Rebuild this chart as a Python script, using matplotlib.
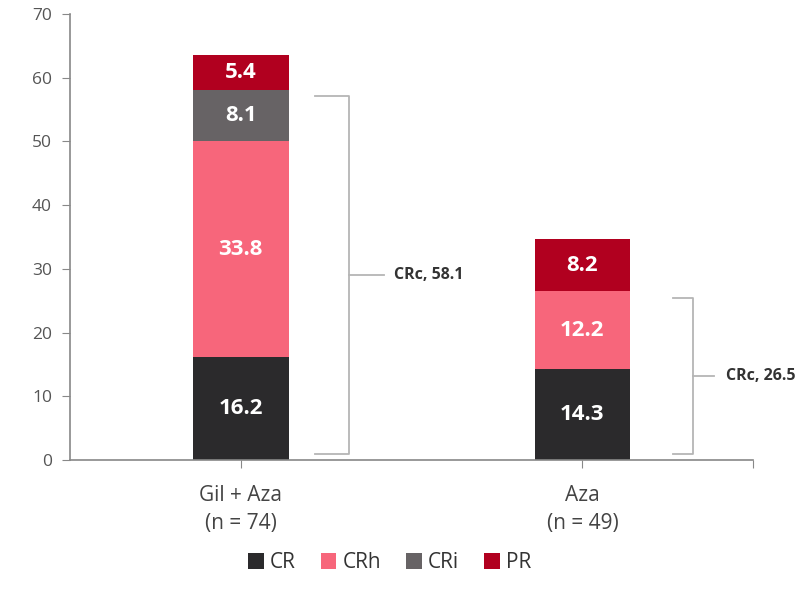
import numpy as np
import matplotlib.pyplot as plt

groups = ['Gil + Aza\n(n = 74)', 'Aza\n(n = 49)']
categories = ['CR', 'CRh', 'CRi', 'PR']
values = {
    'CR': [16.2, 14.3],
    'CRh': [33.8, 12.2],
    'CRi': [8.1, 0.0],
    'PR': [5.4, 8.2],
}
crc_totals = [58.1, 26.5]
colors = ['#2b2a2c', '#f7667b', '#676365', '#b1001f']

plt.rcParams['font.family'] = ['Open Sans', 'DejaVu Sans']

fig = plt.figure(figsize=(8, 6), dpi=100)
ax = fig.add_axes([0.0875, 0.233, 0.854, 0.744])

x = np.array([0.5, 1.5])
width = 0.28
bottom = np.zeros(2)
for cat, col in zip(categories, colors):
    vals = np.array(values[cat])
    ax.bar(x, vals, width, bottom=bottom, color=col, label=cat)
    for xi, b, v in zip(x, bottom, vals):
        if v > 0:
            ax.text(xi, b + v / 2, f'{v:.1f}', ha='center', va='center',
                    color='white', fontsize=16, fontweight='bold')
    bottom += vals

# CRc brackets: (vertical x, arm length, middle tick length, label offset)
brackets = [(0.818, 0.10, 0.10, 0.13), (1.825, 0.06, 0.06, 0.094)]
for (bx, arm, mid, off), tot in zip(brackets, crc_totals):
    top, low = tot - 1.0, 0.9
    ax.plot([bx - arm, bx, bx, bx - arm], [top, top, low, low],
            color='#b5b5b5', lw=1.3, clip_on=False)
    ym = (top + low) / 2
    ax.plot([bx, bx + mid], [ym, ym], color='#b5b5b5', lw=1.3, clip_on=False)
    ax.text(bx + off, ym, f'CRc, {tot}', ha='left', va='center',
            fontsize=11.5, fontweight='bold', color='#333333', clip_on=False)

ax.set_xlim(0, 2)
ax.set_ylim(0, 70)
ax.set_yticks(range(0, 71, 10))
ax.set_xticks(list(x) + [2.0])
ax.set_xticklabels(groups + [''], fontsize=15, color='#444444', linespacing=1.45)
ax.tick_params(axis='y', labelsize=12.5, labelcolor='#555555', color='#888888',
               length=6, pad=7)
ax.tick_params(axis='x', color='#888888', length=6, pad=12)
for s in ['top', 'right']:
    ax.spines[s].set_visible(False)
for s in ['left', 'bottom']:
    ax.spines[s].set_color('#888888')
    ax.spines[s].set_linewidth(1.2)

fig.legend(loc='center', bbox_to_anchor=(0.487, 0.062), ncol=4, frameon=False,
           fontsize=15, handlelength=0.75, handleheight=0.75, handletextpad=0.3,
           columnspacing=1.2, labelcolor='#333333')

fig.savefig('out.png', dpi=100)
